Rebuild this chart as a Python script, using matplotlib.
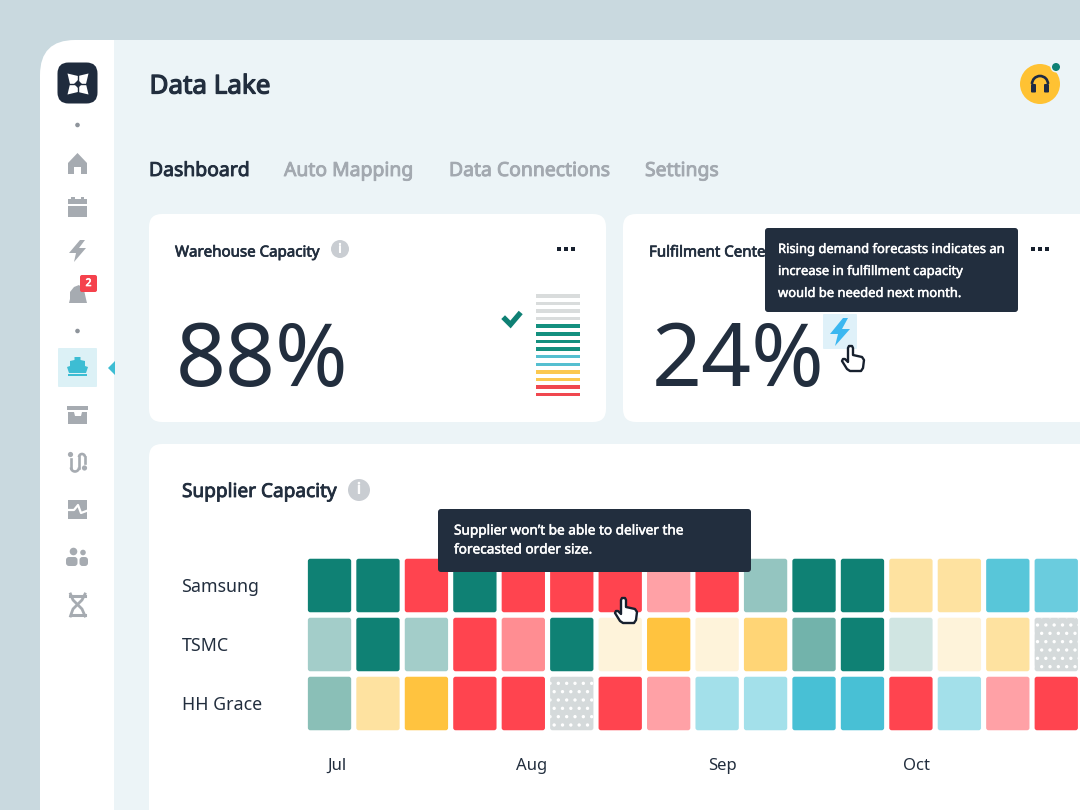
import matplotlib
matplotlib.use("Agg")
import matplotlib.pyplot as plt
import matplotlib.patheffects as pe
from matplotlib.patches import FancyBboxPatch, Polygon, Circle, Rectangle, Arc
from matplotlib.transforms import blended_transform_factory

plt.rcParams['font.family'] = ['Noto Sans', 'DejaVu Sans']
plt.rcParams['hatch.linewidth'] = 1.2

# ---------- data ----------
suppliers = ["Samsung", "TSMC", "HH Grace"]
month_labels = ["Jul", "Aug", "Sep", "Oct"]
month_columns = [0.15, 4.16, 8.1, 12.12]

samsung_cells = ["G5", "G5", "R5", "G5", "R5", "R5", "R5", "R3", "R5", "G3", "G5", "G5", "Y2", "Y2", "C4", "C3"]
tsmc_cells = ["G2", "G5", "G2", "R5", "R4", "G5", "Y1", "Y5", "Y1", "Y3", "G4", "G5", "G1", "Y1", "Y2", "NA"]
grace_cells = ["G3b", "Y2", "Y5", "R5", "R5", "NA", "R5", "R3", "C2", "C2", "C5", "C5", "R5", "C2", "R3", "R5"]

cell_colors = {
    "G5": "#0F8174", "G4": "#72B3AB", "G3": "#94C5C0", "G3b": "#8ABFB7", "G2": "#A3CDC9", "G1": "#D0E5E2",
    "R5": "#FF444F", "R4": "#FF8D92", "R3": "#FFA1A6",
    "Y5": "#FFC33F", "Y3": "#FFD576", "Y2": "#FEE2A0", "Y1": "#FEF3DA",
    "C5": "#48C0D5", "C4": "#58C6D9", "C3": "#6ACCDE", "C2": "#A3E0EA",
    "NA": "#D5DADB",
}

gauge_segments = [4, 4, 2, 2, 2]
gauge_colors = ["#D9DCDC", "#14907F", "#55BFD0", "#FBC84F", "#F0474F"]

warehouse_value = "88%"
fulfilment_value = "24%"

DARK = "#222E3E"
GREY = "#A6ABB1"
CYAN = "#3DBDD3"
TEAL = "#0E8074"

# ---------- canvas ----------
fig = plt.figure(figsize=(10.8, 8.1), dpi=100, facecolor="#C9D9DF")
ax = fig.add_axes([0, 0, 1, 1])
ax.set_xlim(0, 1080)
ax.set_ylim(810, 0)
ax.axis("off")


def rbox(x, y, w, h, r, color, z=1, target=None, **kw):
    p = FancyBboxPatch((x, y), w, h, boxstyle=f"round,pad=0,rounding_size={r}",
                       facecolor=color, edgecolor="none", zorder=z, **kw)
    (target or ax).add_patch(p)
    return p


def poly(points, color, z=3, target=None, **kw):
    p = Polygon(points, closed=True, facecolor=color, edgecolor=kw.pop("edgecolor", "none"), zorder=z, **kw)
    (target or ax).add_patch(p)
    return p


def label(x, y, s, color=DARK, fs=11, stroke=0.0, target=None, **kw):
    t = (target or ax).text(x, y, s, color=color, fontsize=fs, va=kw.pop("va", "center"), ha=kw.pop("ha", "left"), zorder=kw.pop("zorder", 3), **kw)
    if stroke:
        t.set_path_effects([pe.withStroke(linewidth=stroke, foreground=color)])
    return t


def hand(x0, y0, z=8, target=None):
    pts = [(7, 1), (10, 1), (11, 3), (11, 10), (20, 12), (22, 15), (21, 23), (19, 26),
           (8, 26), (5, 24), (0, 16), (1, 14), (3, 14), (6, 17), (6, 3)]
    poly([(x0 + px, y0 + py) for px, py in pts], "white", z=z, target=target, edgecolor="#17202E",
         linewidth=1.7, joinstyle="round")


def info(x, y, r, fs):
    ax.add_patch(Circle((x, y), r, facecolor="#C9CDD2", edgecolor="none", zorder=3))
    label(x, y, "i", color="white", fs=fs, stroke=0.7, ha="center", zorder=4)


def dots(x, y):
    for dx in (-7, 0, 7):
        ax.add_patch(Rectangle((x + dx - 1.6, y - 1.6), 3.2, 3.2, facecolor="#17202E", edgecolor="none", zorder=3))


# shell
rbox(40, 40, 200, 900, 35, "white", z=0.5)
ax.add_patch(Rectangle((114, 40), 1000, 800, facecolor="#ECF4F7", edgecolor="none", zorder=0.6))

# cards
rbox(149, 214, 457, 208, 13, "white")
rbox(623, 214, 500, 208, 13, "white")
rbox(149, 444, 1000, 420, 13, "white")

# header
label(149.5, 87, "Data Lake", fs=18.7, stroke=0.9)
tabs = [("Dashboard", 149, DARK), ("Auto Mapping", 284, "#A3A9B0"), ("Data Connections", 449, "#A3A9B0"), ("Settings", 645, "#A3A9B0")]
for name, x, col in tabs:
    label(x, 171, name, color=col, fs=13.95, stroke=0.65)

# avatar
ax.add_patch(Circle((1040, 84), 20, facecolor="#FFC233", edgecolor="none", zorder=3))
ax.add_patch(Circle((1056, 67), 5.5, facecolor="#ECF4F7", edgecolor="none", zorder=4))
ax.add_patch(Circle((1056, 67), 4, facecolor=TEAL, edgecolor="none", zorder=5))
ax.add_patch(Arc((1040, 84), 16, 16, theta1=180, theta2=360, edgecolor="#1D2A44", linewidth=1.9, zorder=4))
rbox(1031, 84, 5, 8.5, 1, "#1D2A44", z=4)
rbox(1044, 84, 5, 8.5, 1, "#1D2A44", z=4)

# card 1
label(175, 253, "Warehouse Capacity", fs=10.85, stroke=0.5)
info(340, 249, 9, 9)
dots(566, 249)
label(176, 363, warehouse_value, fs=63)
ax.plot([505, 510.5, 519], [319, 324.5, 314.5], color=TEAL, lw=3.8, zorder=3, solid_joinstyle="miter")

# gauge
gauge_ax = fig.add_axes([536 / 1080, 1 - 398.5 / 810, 44 / 1080, 106.5 / 810])
gauge_ax.axis("off")
gauge_ax.set_xlim(0, 1)
row = 0
for count, col in zip(gauge_segments, gauge_colors):
    for _ in range(count):
        gauge_ax.barh(row, 1, height=0.46, color=col)
        row += 1
gauge_ax.set_ylim(row - 0.5, -0.5)
gauge_ax.patch.set_alpha(0)

# card 2
label(649, 253, "Fulfilment Center", fs=10.85, stroke=0.5)
dots(1040, 249)
label(651.5, 363, fulfilment_value, fs=63)
rbox(823, 314, 34, 35, 1, "#DFF1F9", z=3)
poly([(843, 318), (830, 334), (838, 334), (835, 346), (850, 329), (842, 329), (848, 318)], "#3BB7F0", z=4)
hand(842, 345)

# tooltip 1
rbox(765, 228, 253, 84, 3, DARK, z=6)
for i, line in enumerate(["Rising demand forecasts indicates an", "increase in fulfillment capacity", "would be needed next month."]):
    label(778, 249.5 + i * 22, line, color="white", fs=9.35, stroke=0.35, zorder=7)

# card 3
label(182, 492, "Supplier Capacity", fs=13.7, stroke=0.6)
info(359, 490, 11, 11)

# heatmap
heat = fig.add_axes([305.3 / 1080, 1 - 733 / 810, 775.2 / 1080, 177 / 810])
heat.patch.set_alpha(0)
heat.set_xlim(-0.5, 15.5)
heat.set_ylim(2.5, -0.5)
for s in heat.spines.values():
    s.set_visible(False)
for r, cells in enumerate([samsung_cells, tsmc_cells, grace_cells]):
    for c, code in enumerate(cells):
        w, h = 0.894, 0.907
        kw = dict(edgecolor="none", linewidth=0)
        if code == "NA":
            kw = dict(edgecolor="white", hatch="..", linewidth=0)
        heat.add_patch(FancyBboxPatch((c - w / 2, r - h / 2), w, h,
                                      boxstyle="round,pad=0,rounding_size=0.05", mutation_aspect=0.82,
                                      facecolor=cell_colors[code], **kw))
heat.set_xticks(month_columns, month_labels, fontsize=12, color=DARK)
heat.tick_params(axis="x", length=0, pad=18)
heat.set_yticks([])
trans = blended_transform_factory(ax.transData, heat.transData)
for r, name in enumerate(suppliers):
    label(181.5, r + 0.03, name, fs=12.8, transform=trans)

# overlay for tooltip 2 and cursor above heatmap
top = fig.add_axes([0, 0, 1, 1])
top.set_xlim(0, 1080)
top.set_ylim(810, 0)
top.axis("off")
top.patch.set_alpha(0)
rbox(438, 509, 313, 63, 3, DARK, target=top)
for i, line in enumerate(["Supplier won\u2019t be able to deliver the", "forecasted order size."]):
    label(454, 531 + i * 19, line, color="white", fs=9.8, stroke=0.35, target=top)
hand(615, 597, target=top)

# ---------- sidebar ----------
rbox(57.5, 62.5, 40, 41, 11, "#1F2B3D", z=3)
cx, cy = 78, 84
star = [(-10.5, -10.5), (0, -8), (10.5, -10.5), (8, 0), (10.5, 10.5), (0, 8), (-10.5, 10.5), (-8, 0)]
poly([(cx + px, cy + py) for px, py in star], "white", z=4)
poly([(cx, cy - 4), (cx + 4, cy), (cx, cy + 4), (cx - 4, cy)], "#1F2B3D", z=5)
ax.plot([cx - 9, cx + 9], [cy, cy], color="#1F2B3D", lw=1.0, zorder=5)
ax.plot([cx, cx], [cy - 9, cy + 9], color="#1F2B3D", lw=1.0, zorder=5)
for y in (125, 331):
    ax.add_patch(Circle((77.5, y), 2.3, facecolor="#8E949B", edgecolor="none", zorder=3))

# home
poly([(68, 163), (77.5, 153), (87, 163), (87, 174), (81, 174), (81, 167), (74, 167), (74, 174), (68, 174)], GREY)
# calendar
ax.add_patch(Rectangle((68, 199), 19, 5, facecolor=GREY, zorder=3))
ax.add_patch(Rectangle((68, 206), 19, 11, facecolor=GREY, zorder=3))
ax.add_patch(Rectangle((71, 197), 3.5, 3, facecolor=GREY, zorder=3))
ax.add_patch(Rectangle((80.5, 197), 3.5, 3, facecolor=GREY, zorder=3))
# bolt
poly([(80, 240), (69, 253), (76, 253), (74, 262), (86, 248), (79, 248), (85, 240)], GREY)
# bell
poly([(69, 303), (70, 299), (70, 292), (74, 287), (79, 285), (84, 290), (86, 299), (87, 303)], GREY)
rbox(80, 275, 17, 17, 2, "#F5424D", z=4)
label(88.5, 283.5, "2", color="white", fs=7.5, stroke=0.5, ha="center", zorder=5)
# selected ship
rbox(58, 348, 39, 39, 1, "#DCF1F6", z=3)
poly([(74.5, 357), (80.5, 357), (80.5, 360), (85, 361), (85, 366), (88, 367), (86, 373), (69, 373), (67, 367), (70, 366), (70, 361), (74.5, 360)], CYAN, z=4)
ax.add_patch(Rectangle((68, 373.5), 19, 2, facecolor=CYAN, zorder=4))
poly([(108, 368), (115, 361), (115, 375)], CYAN)
# archive
ax.add_patch(Rectangle((67, 406), 21, 4, facecolor=GREY, zorder=3))
poly([(68, 412), (74, 412), (75, 416), (81, 416), (82, 412), (87, 412), (87, 424), (68, 424)], GREY)
# path icon
ax.plot([71, 71], [459, 467.5], color=GREY, lw=1.9, zorder=3)
ax.add_patch(Arc((75, 467.5), 8, 8, theta1=0, theta2=180, edgecolor=GREY, lw=1.9, zorder=3))
ax.plot([79, 79], [467.5, 457], color=GREY, lw=1.9, zorder=3)
ax.add_patch(Arc((82, 457), 6, 6, theta1=180, theta2=360, edgecolor=GREY, lw=1.9, zorder=3))
ax.plot([85, 85], [457, 463], color=GREY, lw=1.9, zorder=3)
ax.add_patch(Circle((70.5, 454.5), 2.6, facecolor=GREY, zorder=3))
ax.add_patch(Circle((84.5, 468), 2.6, facecolor=GREY, zorder=3))
# activity
ax.add_patch(Rectangle((68, 500), 19, 19, facecolor=GREY, zorder=3))
ax.plot([66, 74, 78, 81, 89], [510, 510, 505, 513, 510], color="white", lw=1.6, zorder=4)
# people
ax.add_patch(Circle((73.5, 551.5), 3.8, facecolor=GREY, zorder=3))
ax.add_patch(Circle((83, 552.5), 2.8, facecolor=GREY, zorder=3))
rbox(66, 557, 11.5, 9, 3, GREY, z=3)
rbox(79.5, 557, 8.5, 9, 3, GREY, z=3)
# dna
ax.plot([70, 85], [596, 596], color=GREY, lw=2.2, zorder=3)
ax.plot([71, 85], [614.5, 614.5], color=GREY, lw=2.2, zorder=3)
ax.plot([70.5, 73, 82, 85], [594, 600, 609, 616], color=GREY, lw=2.0, zorder=3)
ax.plot([85, 82, 73, 70.5], [594, 600, 609, 616], color=GREY, lw=2.0, zorder=3)

fig.savefig("out.png", dpi=100, facecolor=fig.get_facecolor())
